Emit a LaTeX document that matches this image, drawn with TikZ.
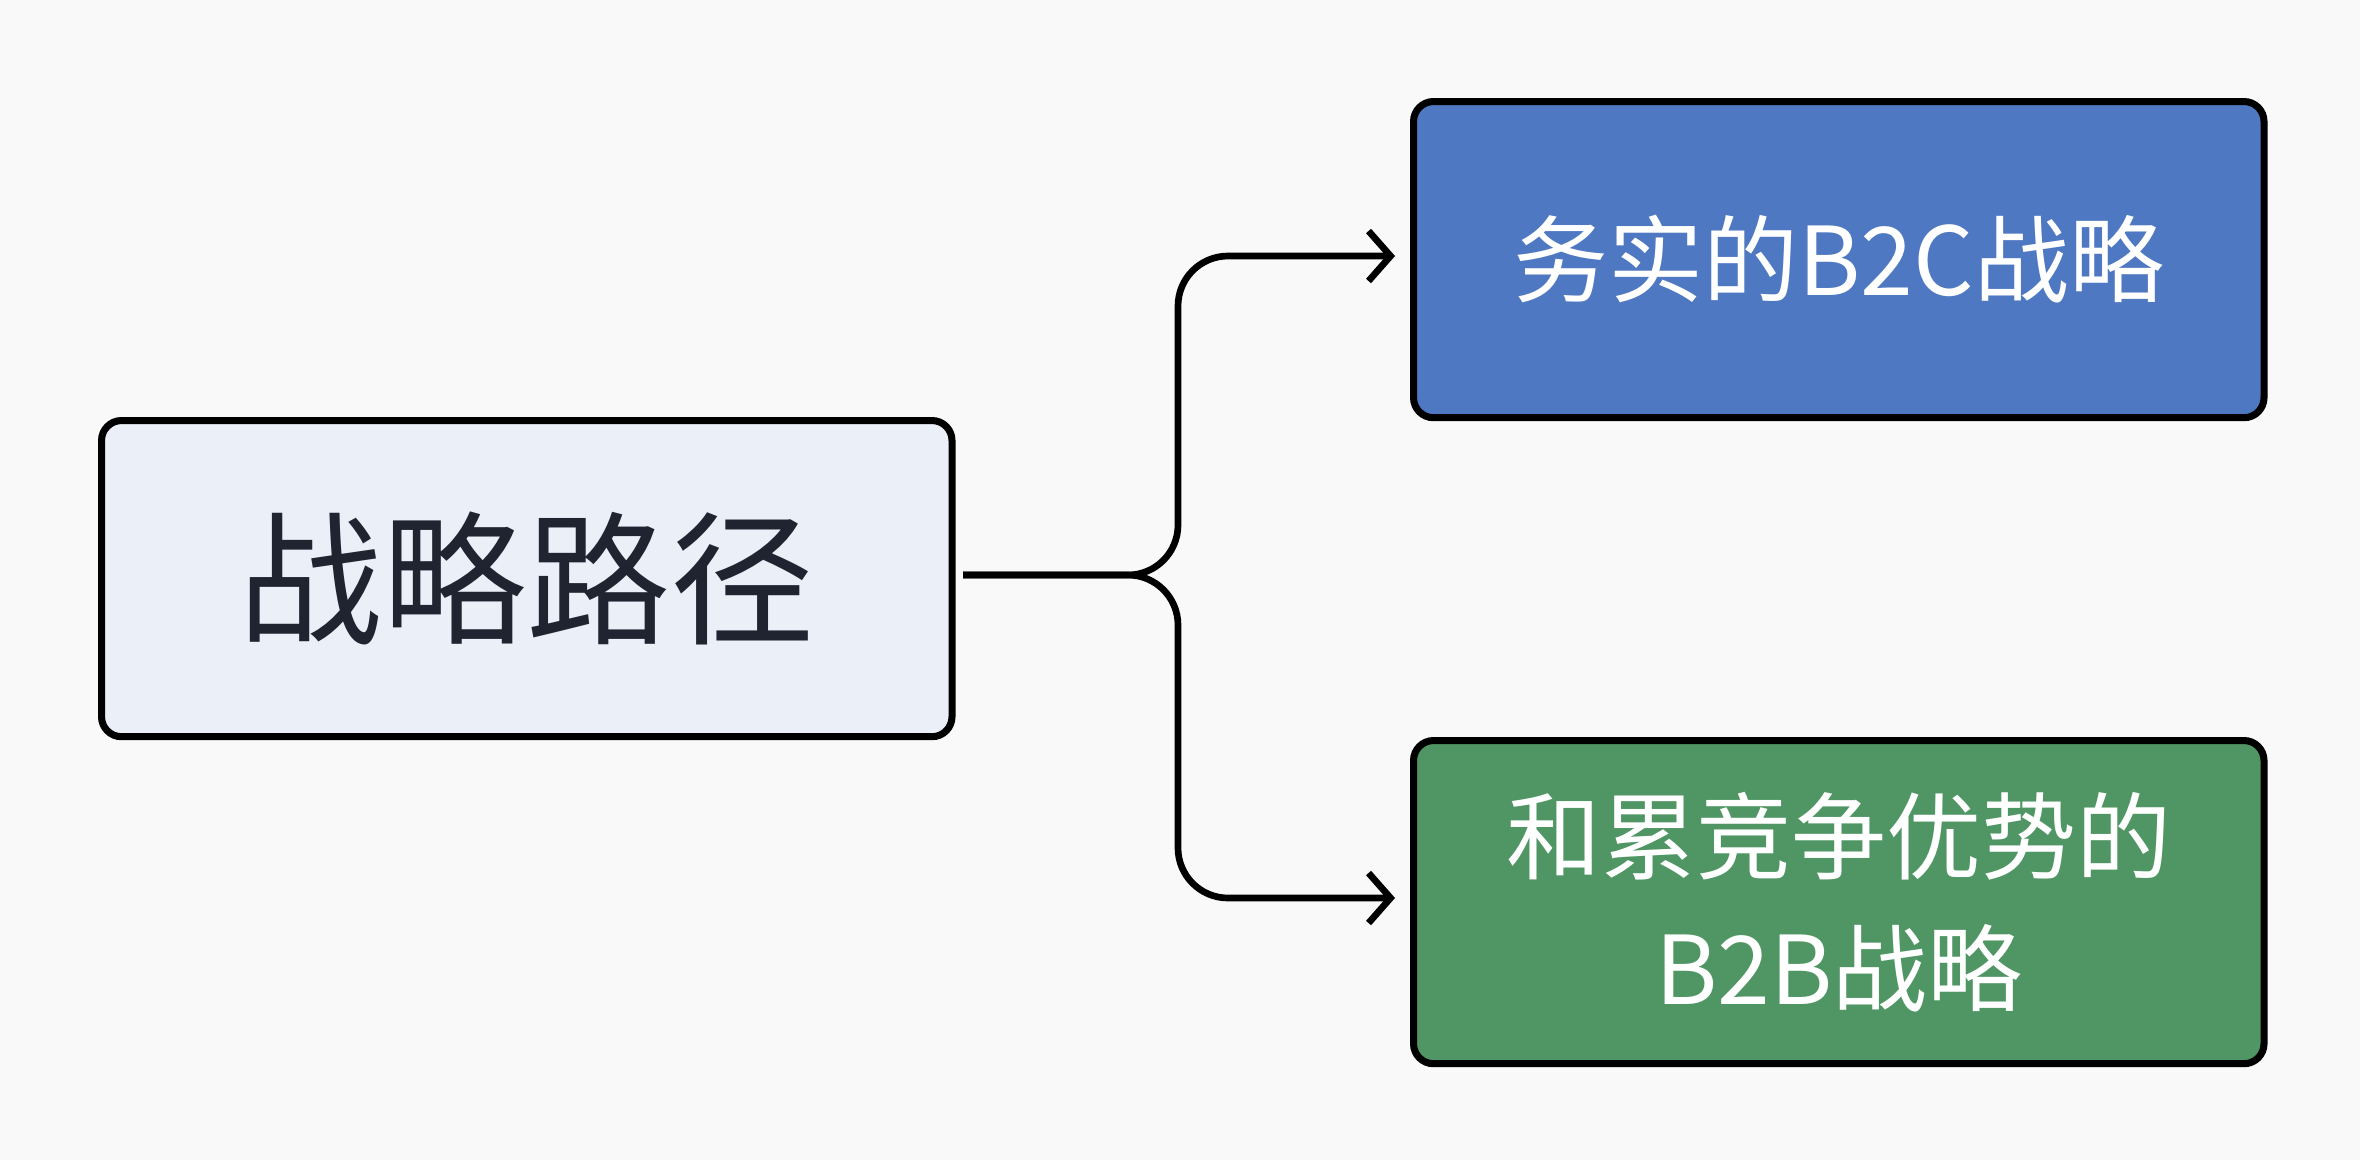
\documentclass[tikz,border=0pt]{standalone}
\usepackage{fontspec}
\newfontfamily\cjk{Noto Sans CJK SC}
\usetikzlibrary{arrows.meta}
\definecolor{bg}{HTML}{F9F9F9}
\definecolor{lf}{HTML}{EBEFF8}
\definecolor{bl}{HTML}{4F78C2}
\definecolor{gr}{HTML}{4F9664}
\definecolor{tx}{HTML}{1F2430}
\begin{document}
\begin{tikzpicture}[x=0.01cm,y=-0.01cm,
 box/.style={draw=black,line width=2pt,rounded corners=0.2cm,anchor=north west,inner sep=0pt},
 con/.style={line width=1.9pt,rounded corners=0.5cm,-{Straight Barb[length=0.22cm,width=0.5cm,line width=1.9pt]}}]
\fill[bg] (0,0) rectangle (2360,1160);
\useasboundingbox (0,0) rectangle (2360,1160);
\node[box,fill=lf,minimum width=8.5cm,minimum height=3.16cm] (l) at (98,417) {};
\node[text=tx,font=\cjk\fontsize{41}{45}\selectfont] at (l.center) {战略路径};
\node[box,fill=bl,minimum width=8.5cm,minimum height=3.16cm] (t) at (1410,98) {};
\node[text=white,font=\cjk\fontsize{27}{32}\selectfont] at (t.center) {务实的B2C战略};
\node[box,fill=gr,minimum width=8.5cm,minimum height=3.23cm] (b) at (1410,737) {};
\node[text=white,font=\cjk\fontsize{27}{32}\selectfont,align=center] at (b.center) {和累竞争优势的\\[0.2cm]B2B战略};
\coordinate (s) at (963,575);
\coordinate (ta) at (1395,256);
\coordinate (ba) at (1395,898);
\draw[con] (s) -- (1178,575) -- (1178,256) -- (ta);
\draw[con] (s) -- (1178,575) -- (1178,898) -- (ba);
\end{tikzpicture}
\end{document}
